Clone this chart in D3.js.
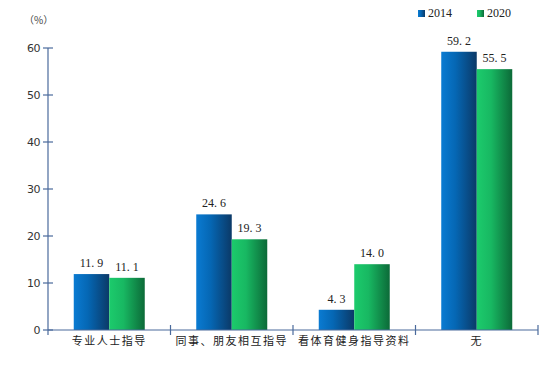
<!DOCTYPE html>
<html><head><meta charset="utf-8">
<script src="https://cdn.jsdelivr.net/npm/d3@7"></script>
<style>body{margin:0;background:#fff}svg{display:block}</style>
</head><body>
<svg id="c" width="541" height="366"></svg>
<script>
const categories = ["专业人士指导","同事、朋友相互指导","看体育健身指导资料","无"];
const series = ["2014","2020"];
const values2014 = [11.9, 24.6, 4.3, 59.2];
const values2020 = [11.1, 19.3, 14.0, 55.5];
const yTicks = [0,10,20,30,40,50,60];

const svg = d3.select("#c");
const axisColor = "#4a6a9c";
const m = {l:48, r:3, t:48, b:36};
const W = 541, H = 366;
const x = d3.scaleBand().domain(categories).range([m.l, W-m.r]).paddingInner(0).paddingOuter(0);
const y = d3.scaleLinear().domain([0,60]).range([H-m.b, m.t]);

const defs = svg.append("defs");
function grad(id, stops){
  const g = defs.append("linearGradient").attr("id",id).attr("x1","0").attr("x2","1").attr("y1","0").attr("y2","0");
  stops.forEach(s=>g.append("stop").attr("offset",s[0]).attr("stop-color",s[1]));
}
grad("gb", [[0,"#0a7bd2"],[0.4,"#0567b4"],[1,"#0b3967"]]);
grad("gg", [[0,"#1ccb6c"],[0.4,"#18b862"],[1,"#0c6a38"]]);

const bw = 35.5;
const data = categories.map((c,i)=>({c, v:[values2014[i], values2020[i]]}));
const g = svg.append("g");
data.forEach(d=>{
  const cx = x(d.c) + x.bandwidth()/2;
  d.v.forEach((v,j)=>{
    const x0 = cx + (j===0 ? -bw : 0);
    g.append("rect").attr("x",x0).attr("y",y(v)).attr("width",bw).attr("height",y(0)-y(v))
      .attr("fill", j===0 ? "url(#gb)" : "url(#gg)");
    g.append("text").attr("x",x0+bw/2).attr("y",y(v)-7).attr("text-anchor","middle")
      .attr("font-family","'Liberation Serif', serif").attr("font-size",12).attr("fill","#222")
      .text(v.toFixed(1).replace(".", ". "));
  });
});

// y axis
const ya = svg.append("g");
ya.append("line").attr("x1",m.l).attr("x2",m.l).attr("y1",y(60)).attr("y2",y(0)+5).attr("stroke",axisColor).attr("stroke-width",1.2);
yTicks.forEach(t=>{
  ya.append("line").attr("x1",m.l-5).attr("x2",m.l+5).attr("y1",y(t)).attr("y2",y(t)).attr("stroke",axisColor).attr("stroke-width",1.2);
  ya.append("text").attr("x",m.l-8).attr("y",y(t)+4).attr("text-anchor","end")
    .attr("font-family","'DejaVu Sans', sans-serif").attr("font-size",11).attr("fill","#333").attr("letter-spacing","-0.5").text(t);
});
// x axis
const xa = svg.append("g");
xa.append("line").attr("x1",m.l).attr("x2",W-m.r).attr("y1",y(0)).attr("y2",y(0)).attr("stroke",axisColor).attr("stroke-width",1.2);
categories.forEach((c,i)=>{
  const xe = x(c)+x.bandwidth();
  xa.append("line").attr("x1",xe).attr("x2",xe).attr("y1",y(0)-5).attr("y2",y(0)+5).attr("stroke",axisColor).attr("stroke-width",1.2);
  xa.append("text").attr("x",x(c)+x.bandwidth()/2).attr("y",y(0)+15).attr("text-anchor","middle")
    .attr("font-family","'Noto Sans CJK SC', sans-serif").attr("font-size",11).attr("letter-spacing","1.5").attr("fill","#222").text(c);
});

svg.append("text").attr("x",24).attr("y",24).attr("font-family","'Noto Sans CJK SC', sans-serif").attr("font-size",10).attr("fill","#444").text("（%）");

// legend
const lg = svg.append("g");
const lx = [418, 477];
series.forEach((s,i)=>{
  lg.append("rect").attr("x",lx[i]).attr("y",10).attr("width",7).attr("height",7).attr("fill", i===0?"url(#gb)":"url(#gg)");
  lg.append("text").attr("x",lx[i]+10).attr("y",17).attr("font-family","'Liberation Serif', serif").attr("font-size",12).attr("fill","#222").text(s);
});
</script>
</body></html>
